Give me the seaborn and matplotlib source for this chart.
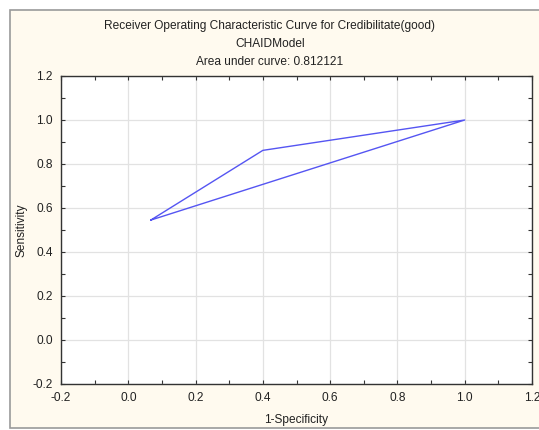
import matplotlib
matplotlib.use("Agg")
import matplotlib.pyplot as plt
import seaborn as sns
import pandas as pd
from matplotlib.patches import Rectangle
from matplotlib.ticker import MultipleLocator

one_minus_spec = [0.0667, 0.4, 1.0, 0.0667]
sensitivity = [0.545, 0.862, 1.0, 0.545]
title_lines = ["Receiver Operating Characteristic Curve for Credibilitate(good)",
               "CHAIDModel", "Area under curve: 0.812121"]
xticks = [-0.2, 0.0, 0.2, 0.4, 0.6, 0.8, 1.0, 1.2]
yticks = [-0.2, 0.0, 0.2, 0.4, 0.6, 0.8, 1.0, 1.2]

sns.set_theme(style="white")
plt.rcParams['font.family'] = ['Liberation Sans', 'DejaVu Sans']

FS = 8.6
W, H = 539, 430
fig = plt.figure(figsize=(W / 100, H / 100), dpi=100, facecolor="white")
bg = Rectangle((10 / W, 2 / H), (W - 9) / W, (H - 12) / H, transform=fig.transFigure,
               facecolor="#FFFAEF", edgecolor="#9A9A9A", linewidth=1.2, zorder=-10)
fig.patches.append(bg)

ax = fig.add_axes([61 / W, (H - 384) / H, (532 - 61) / W, (384 - 76) / H])
ax.set_facecolor("white")

df = pd.DataFrame({"x": one_minus_spec, "y": sensitivity})
sns.lineplot(data=df, x="x", y="y", sort=False, estimator=None, ax=ax,
             color="#5555F2", linewidth=1.0)

ax.set_xlim(-0.2, 1.2)
ax.set_ylim(-0.2, 1.2)
ax.set_xticks(xticks)
ax.set_yticks(yticks)
ax.set_xticklabels([f"{v:.1f}" for v in xticks])
ax.set_yticklabels([f"{v:.1f}" for v in yticks])
ax.xaxis.set_minor_locator(MultipleLocator(0.1))
ax.yaxis.set_minor_locator(MultipleLocator(0.1))
ax.tick_params(which="both", direction="in", top=True, right=True, bottom=True, left=True,
               color="#333333", labelsize=FS, labelcolor="#222222")
ax.tick_params(which="both", length=3, width=0.8)
ax.tick_params(axis="x", which="major", pad=6)
ax.tick_params(axis="y", which="major", pad=6)
ax.grid(True, which="major", color="#E2E2E2", linewidth=0.9)
for s in ax.spines.values():
    s.set_color("#333333")
    s.set_linewidth(1.0)

ax.set_xlabel("1-Specificity", fontsize=FS, color="#222222", labelpad=7)
ax.set_ylabel("Sensitivity", fontsize=FS, color="#222222")
ax.yaxis.set_label_coords((28 - 61) / (532 - 61), 0.5)

for i, t in enumerate(title_lines):
    fig.text(270 / W, 1 - (26 + 18 * i) / H, t, ha="center", va="center",
             fontsize=FS, color="#222222")

fig.savefig("out.png", dpi=100, facecolor=fig.get_facecolor())
